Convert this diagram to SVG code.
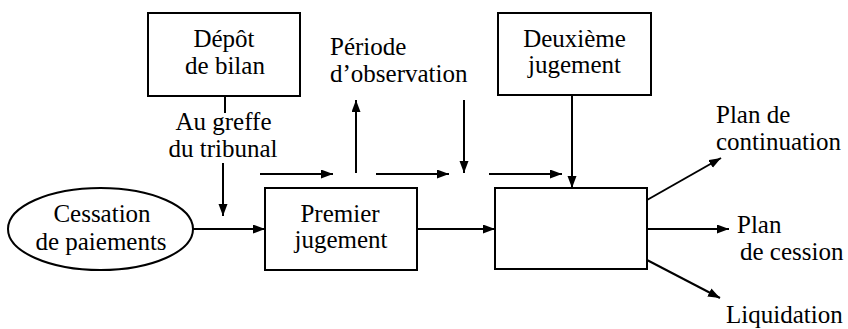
<svg xmlns="http://www.w3.org/2000/svg" width="848" height="329" viewBox="0 0 848 329">
<defs>
  <marker id="ah" markerUnits="userSpaceOnUse" markerWidth="13" markerHeight="10" refX="12" refY="4.5" orient="auto">
    <path d="M0,0 L12,4.5 L0,9 z" fill="#000"/>
  </marker>
</defs>
<rect width="848" height="329" fill="#fff"/>
<g id="connectors" fill="none" stroke="#000" stroke-width="2">
  <line x1="225" y1="96" x2="225" y2="113"/>
  <line x1="223" y1="163" x2="223" y2="216" marker-end="url(#ah)"/>
  <line x1="193" y1="229" x2="265" y2="229" marker-end="url(#ah)"/>
  <line x1="260" y1="174" x2="333" y2="174" marker-end="url(#ah)"/>
  <line x1="356" y1="173" x2="356" y2="100" marker-end="url(#ah)"/>
  <line x1="376" y1="174" x2="449" y2="174" marker-end="url(#ah)"/>
  <line x1="464" y1="100" x2="464" y2="173" marker-end="url(#ah)"/>
  <line x1="489" y1="174" x2="562" y2="174" marker-end="url(#ah)"/>
  <line x1="572" y1="95" x2="572" y2="188" marker-end="url(#ah)"/>
  <line x1="417" y1="229" x2="495" y2="229" marker-end="url(#ah)"/>
  <line x1="647" y1="200" x2="721" y2="158" marker-end="url(#ah)"/>
  <line x1="647" y1="229" x2="729" y2="229" marker-end="url(#ah)"/>
  <line x1="647" y1="260" x2="720" y2="298" marker-end="url(#ah)"/>
</g>
<g id="depot">
  <rect x="148" y="13" width="152" height="83" fill="#fff" stroke="#000" stroke-width="2"/>
  <text x="224" y="47" text-anchor="middle" font-family="'Liberation Serif'" font-size="25">D&#233;p&#244;t</text>
  <text x="225" y="74" text-anchor="middle" font-family="'Liberation Serif'" font-size="25">de bilan</text>
</g>
<g id="greffe">
  <text x="223.5" y="130" text-anchor="middle" font-family="'Liberation Serif'" font-size="25">Au greffe</text>
  <text x="223" y="157" text-anchor="middle" font-family="'Liberation Serif'" font-size="25">du tribunal</text>
</g>
<g id="cessation">
  <ellipse cx="100.5" cy="229" rx="92.5" ry="41" fill="#fff" stroke="#000" stroke-width="2"/>
  <text x="102" y="222" text-anchor="middle" font-family="'Liberation Serif'" font-size="25">Cessation</text>
  <text x="101" y="250" text-anchor="middle" font-family="'Liberation Serif'" font-size="25">de paiements</text>
</g>
<g id="premier">
  <rect x="265" y="188" width="152" height="82" fill="#fff" stroke="#000" stroke-width="2"/>
  <text x="340" y="222" text-anchor="middle" font-family="'Liberation Serif'" font-size="25">Premier</text>
  <text x="341" y="248" text-anchor="middle" font-family="'Liberation Serif'" font-size="25">jugement</text>
</g>
<g id="periode">
  <text x="330" y="55" font-family="'Liberation Serif'" font-size="25">P&#233;riode</text>
  <text x="330" y="82" font-family="'Liberation Serif'" font-size="25">d&#8217;observation</text>
</g>
<g id="deuxieme">
  <rect x="498" y="13" width="153" height="82" fill="#fff" stroke="#000" stroke-width="2"/>
  <text x="574.5" y="47" text-anchor="middle" font-family="'Liberation Serif'" font-size="25">Deuxi&#232;me</text>
  <text x="574.5" y="73" text-anchor="middle" font-family="'Liberation Serif'" font-size="25">jugement</text>
</g>
<g id="resultat">
  <rect x="495" y="188" width="152" height="81" fill="#fff" stroke="#000" stroke-width="2"/>
</g>
<g id="continuation">
  <text x="716" y="123" font-family="'Liberation Serif'" font-size="25">Plan de</text>
  <text x="716" y="150" font-family="'Liberation Serif'" font-size="25">continuation</text>
</g>
<g id="cession">
  <text x="737" y="233" font-family="'Liberation Serif'" font-size="25">Plan</text>
  <text x="740" y="260" font-family="'Liberation Serif'" font-size="25">de cession</text>
</g>
<g id="liquidation">
  <text x="726" y="323" font-family="'Liberation Serif'" font-size="25">Liquidation</text>
</g>
</svg>
